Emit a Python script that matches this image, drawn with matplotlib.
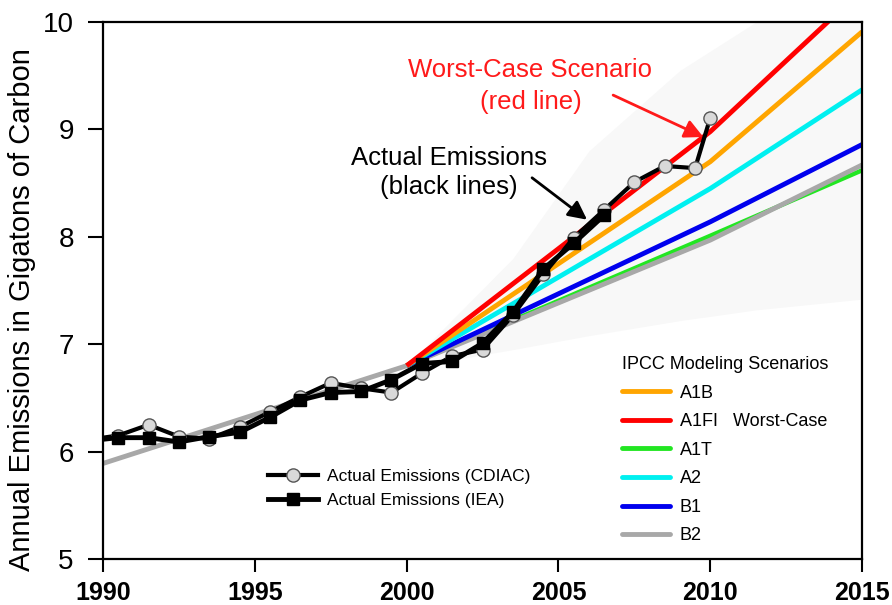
import matplotlib
matplotlib.use("Agg")
import matplotlib.pyplot as plt
from matplotlib.lines import Line2D

plt.rcParams['font.family'] = ['Liberation Sans', 'DejaVu Sans']

# === DADOS ===
cdiac_anos = [1989.5, 1990.5, 1991.5, 1992.5, 1993.5, 1994.5, 1995.5, 1996.5, 1997.5,
              1998.5, 1999.5, 2000.5, 2001.5, 2002.5, 2003.5, 2004.5, 2005.5, 2006.5,
              2007.5, 2008.5, 2009.5, 2010.0]
cdiac_vals = [6.11, 6.15, 6.25, 6.14, 6.12, 6.23, 6.37, 6.51, 6.64,
              6.59, 6.55, 6.73, 6.89, 6.95, 7.27, 7.65, 7.99, 8.25,
              8.51, 8.66, 8.64, 9.11]

iea_anos = [1989.5, 1990.5, 1991.5, 1992.5, 1993.5, 1994.5, 1995.5, 1996.5, 1997.5,
            1998.5, 1999.5, 2000.5, 2001.5, 2002.5, 2003.5, 2004.5, 2005.5, 2006.5]
iea_vals = [6.10, 6.13, 6.13, 6.09, 6.14, 6.18, 6.32, 6.48, 6.55,
            6.56, 6.67, 6.82, 6.84, 7.01, 7.30, 7.70, 7.94, 8.20]

cen_anos = [2000, 2010, 2015]
a1b = [6.80, 8.70, 9.91]
a1fi = [6.80, 8.98, 10.30]
a1t = [6.80, 8.01, 8.62]
a2 = [6.80, 8.45, 9.37]
b1 = [6.80, 8.14, 8.86]
b2_anos = [1990, 2000, 2010, 2015]
b2 = [5.89, 6.80, 7.97, 8.67]

# faixa cinza clara (envelope)
env_anos = [2000, 2003.5, 2006, 2009, 2011.5, 2015]
env_sup = [6.80, 7.80, 8.80, 9.55, 10.0, 10.0]
env_inf = [6.78, 6.95, 7.08, 7.22, 7.32, 7.42]

anos_ticks = [1990, 1995, 2000, 2005, 2010, 2015]
vals_ticks = [5, 6, 7, 8, 9, 10]

# === FIGURA ===
fig = plt.figure(figsize=(8.92, 6.05), dpi=100)
ax = fig.add_axes([0.1155, 0.076, 0.851, 0.8875])

ax.fill_between(env_anos, env_inf, env_sup, color='#f8f8f8', lw=0, zorder=0)

ax.plot(cen_anos, a1t, color='#22e622', lw=3.2, zorder=2, solid_capstyle='butt')
ax.plot(b2_anos, b2, color='#a8a8a8', lw=3.5, zorder=2, solid_capstyle='butt')
ax.plot(cen_anos, b1, color='#0000ee', lw=3.5, zorder=2, solid_capstyle='butt')
ax.plot(cen_anos, a2, color='#00f0f0', lw=3.5, zorder=2, solid_capstyle='butt')
ax.plot(cen_anos, a1b, color='#ffa500', lw=3.5, zorder=2, solid_capstyle='butt')
ax.plot(cen_anos, a1fi, color='#ff0000', lw=3.5, zorder=2, solid_capstyle='butt')

ax.plot(cdiac_anos, cdiac_vals, color='black', lw=3, marker='o', ms=9.5,
        mfc='#d9d9d9', mec='#555555', mew=1, zorder=4)
ax.plot(iea_anos, iea_vals, color='black', lw=3.5, marker='s', ms=8.5,
        mfc='black', mec='black', zorder=5)

# === TEXTOS E SETAS ===
ax.text(2004.06, 9.553, 'Worst-Case Scenario', color='#ff1a1a', fontsize=18.5,
        ha='center', va='center')
ax.text(2004.1, 9.255, '(red line)', color='#ff1a1a', fontsize=18.5,
        ha='center', va='center')
ax.text(2001.4, 8.73, 'Actual Emissions', color='black', fontsize=18.5,
        ha='center', va='center')
ax.text(2001.4, 8.46, '(black lines)', color='black', fontsize=18.5,
        ha='center', va='center')

ax.annotate('', xy=(2009.77, 8.93), xytext=(2006.8, 9.32),
            arrowprops=dict(arrowstyle='-|>', color='#ff1a1a', lw=2,
                            mutation_scale=28, shrinkA=0, shrinkB=0), zorder=6)
ax.annotate('', xy=(2005.94, 8.16), xytext=(2004.13, 8.55),
            arrowprops=dict(arrowstyle='-|>', color='black', lw=2,
                            mutation_scale=28, shrinkA=0, shrinkB=0), zorder=6)

# === EIXOS ===
ax.set_xlim(1990, 2015)
ax.set_ylim(5, 10)
ax.set_xticks(anos_ticks)
ax.set_yticks(vals_ticks)
ax.tick_params(axis='y', direction='out', length=11, width=1.5, pad=10, labelsize=20)
ax.tick_params(axis='x', direction='out', length=9.5, width=1.5, pad=6, labelsize=18)
for lab in ax.get_xticklabels():
    lab.set_fontweight('bold')
for s in ax.spines.values():
    s.set_linewidth(1.6)
ax.set_ylabel('Annual Emissions in Gigatons of Carbon', fontsize=21)
ax.yaxis.set_label_coords(-0.088, 0.465)

# === LEGENDAS ===
h_cdiac = Line2D([], [], color='black', lw=3, marker='o', ms=9.5,
                 mfc='#d9d9d9', mec='#555555', mew=1)
h_iea = Line2D([], [], color='black', lw=3.5, marker='s', ms=8.5, mfc='black')
leg1 = fig.legend([h_cdiac, h_iea],
                  ['Actual Emissions (CDIAC)', 'Actual Emissions (IEA)'],
                  loc='upper left', bbox_to_anchor=(0.3004, 0.2248),
                  bbox_transform=fig.transFigure, frameon=False, fontsize=12.5,
                  handlelength=2.9, handletextpad=0.5, labelspacing=0.52,
                  borderpad=0, borderaxespad=0)

cores = ['#ffa500', '#ff0000', '#22e622', '#00f0f0', '#0000ee', '#a8a8a8']
nomes = ['A1B', 'A1FI   Worst-Case', 'A1T', 'A2', 'B1', 'B2']
h_cen = [Line2D([], [], color=c, lw=3.5, solid_capstyle='round') for c in cores]
leg2 = fig.legend(h_cen, nomes, loc='upper left', bbox_to_anchor=(0.697, 0.4114),
                  bbox_transform=fig.transFigure, frameon=False, fontsize=13,
                  title='IPCC Modeling Scenarios', title_fontsize=13,
                  alignment='left', handlelength=2.65, handletextpad=0.55,
                  labelspacing=0.64, borderpad=0, borderaxespad=0)

fig.savefig('out.png', dpi=100)
